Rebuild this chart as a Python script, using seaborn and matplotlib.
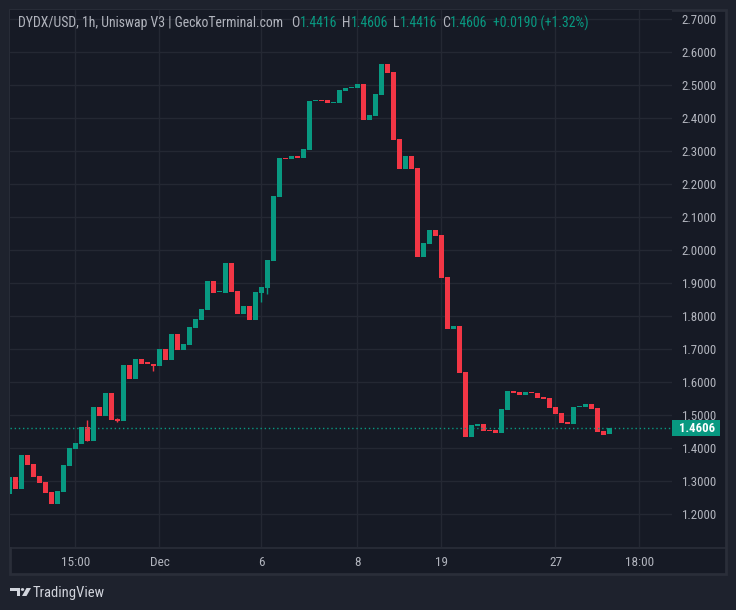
import numpy as np
import pandas as pd
import matplotlib
matplotlib.use("Agg")
import matplotlib.pyplot as plt
import seaborn as sns
from matplotlib import font_manager as fm
from matplotlib.patches import Rectangle, Polygon, Circle
from matplotlib.lines import Line2D

# ---------------- data ----------------
opens = [1.261, 1.312, 1.276, 1.379, 1.352, 1.315, 1.297, 1.267, 1.230, 1.267,
         1.345, 1.397, 1.412, 1.464, 1.421, 1.524, 1.497, 1.567, 1.488, 1.482,
         1.652, 1.609, 1.670, 1.658, 1.655, 1.649, 1.700, 1.667, 1.745, 1.697,
         1.712, 1.764, 1.788, 1.818, 1.906, 1.872, 1.870, 1.961, 1.876, 1.806,
         1.830, 1.788, 1.870, 1.885, 1.967, 2.161, 2.279, 2.276, 2.285, 2.279,
         2.303, 2.452, 2.455, 2.455, 2.446, 2.446, 2.482, 2.491, 2.491, 2.503,
         2.394, 2.406, 2.470, 2.564, 2.539, 2.336, 2.245, 2.285, 2.248, 1.979,
         2.018, 2.061, 2.045, 1.918, 1.761, 1.770, 1.630, 1.433, 1.467, 1.473,
         1.455, 1.455, 1.445, 1.515, 1.573, 1.570, 1.561, 1.570, 1.567, 1.555,
         1.552, 1.524, 1.506, 1.479, 1.473, 1.524, 1.524, 1.533, 1.521, 1.452,
         1.4416]
closes = [1.312, 1.276, 1.379, 1.348, 1.312, 1.294, 1.264, 1.230, 1.270, 1.349,
          1.400, 1.415, 1.464, 1.421, 1.524, 1.497, 1.567, 1.485, 1.482, 1.652,
          1.609, 1.670, 1.655, 1.656, 1.649, 1.700, 1.667, 1.745, 1.697, 1.715,
          1.767, 1.791, 1.821, 1.906, 1.870, 1.874, 1.961, 1.873, 1.806, 1.830,
          1.788, 1.873, 1.888, 1.970, 2.164, 2.279, 2.276, 2.285, 2.279, 2.306,
          2.452, 2.455, 2.452, 2.446, 2.449, 2.485, 2.491, 2.494, 2.503, 2.394,
          2.409, 2.473, 2.564, 2.536, 2.333, 2.245, 2.285, 2.245, 1.979, 2.021,
          2.061, 2.042, 1.915, 1.761, 1.770, 1.627, 1.433, 1.470, 1.473, 1.452,
          1.452, 1.445, 1.518, 1.573, 1.567, 1.561, 1.570, 1.567, 1.552, 1.548,
          1.521, 1.503, 1.476, 1.473, 1.524, 1.527, 1.533, 1.518, 1.448, 1.440,
          1.4606]
wick_highs = {13: 1.485, 18: 1.491}
wick_lows = {18: 1.479, 24: 1.633, 42: 1.842, 43: 1.867}

xtick_pos = [11, 25, 42, 58, 72, 91, 105]
xtick_labels = ["15:00", "Dec", "6", "8", "19", "27", "18:00"]
ytick_vals = [1.2, 1.3, 1.4, 1.5, 1.6, 1.7, 1.8, 1.9, 2.0, 2.1, 2.2, 2.3, 2.4, 2.5, 2.6, 2.7]
last_price = 1.4606

header_main = "DYDX/USD, 1h, Uniswap V3 | GeckoTerminal.com"
ohlc_letters = ["O", "H", "L", "C"]
ohlc_values = ["1.4416", "1.4606", "1.4416", "1.4606"]
change_text = "+0.0190 (+1.32%)"
brand = "TradingView"

# ---------------- style ----------------
OUTER = "#1e222d"
INNER = "#161a25"
GRID = "#242833"
BORDER = "#2a2e39"
TEXT = "#b2b5be"
GREEN = "#089981"
RED = "#f23645"

sns.set_theme(style="dark")


def pick(names):
    for n in names:
        try:
            fm.findfont(fm.FontProperties(family=n), fallback_to_default=False)
            return n
        except Exception:
            pass
    return "DejaVu Sans"


FONT = pick(["Liberation Sans Narrow", "Roboto Condensed", "Open Sans Condensed",
             "Liberation Sans", "DejaVu Sans"])
plt.rcParams["font.family"] = [FONT, "DejaVu Sans"]

W, H = 736, 610
fig = plt.figure(figsize=(W / 100, H / 100), dpi=100, facecolor=OUTER)


def fx(x):
    return x / W


def fy(y):
    return 1 - y / H


# chart frame
fig.patches.append(Rectangle((fx(9.5), fy(573.5)), (726 - 9.5) / W, (573.5 - 9.5) / H,
                             transform=fig.transFigure, facecolor=INNER,
                             edgecolor=BORDER, lw=2, zorder=-5))

ax = fig.add_axes([fx(10), fy(547), (672 - 10) / W, (547 - 10) / H])
ax.set_zorder(1)
ax.set_facecolor(INNER)
for s in ax.spines.values():
    s.set_visible(False)

# candles
df = pd.DataFrame({"open": opens, "close": closes})
df["idx"] = np.arange(len(df))
df["up"] = df["close"] >= df["open"]
df["bottom"] = df[["open", "close"]].min(axis=1)
df["height"] = (df["close"] - df["open"]).abs().clip(lower=0.0035)
df["color"] = np.where(df["up"], GREEN, RED)

for i, hv in wick_highs.items():
    ax.vlines(i, df.loc[i, "bottom"], hv, color=df.loc[i, "color"], lw=1, zorder=2)
for i, lv in wick_lows.items():
    ax.vlines(i, lv, df.loc[i, "bottom"] + df.loc[i, "height"], color=df.loc[i, "color"], lw=1, zorder=2)

ax.bar(df["idx"], df["height"], bottom=df["bottom"], width=0.84,
       color=df["color"], linewidth=0, zorder=3, antialiased=False)

ax.axhline(last_price, color=GREEN, lw=1, ls=(0, (1, 2)), zorder=4)

ax.set_xlim(0.083, 110.42)
ax.set_ylim(1.10, 2.7273)
ax.set_yticks(ytick_vals)
ax.set_yticklabels([f"{v:.4f}" for v in ytick_vals])
ax.set_xticks(xtick_pos)
ax.set_xticklabels(xtick_labels)
ax.grid(True, color=GRID, lw=1)
ax.set_axisbelow(True)
ax.yaxis.tick_right()
ax.tick_params(axis="y", length=0, pad=6.8, labelsize=9.3, labelcolor=TEXT)
ax.tick_params(axis="x", length=0, pad=6.5, labelsize=9.5, labelcolor=TEXT)

# separators
fig.lines.append(Line2D([fx(10), fx(726)], [fy(547.5), fy(547.5)], transform=fig.transFigure,
                        color=BORDER, lw=1.2, zorder=2))

# price tag
fig.patches.append(Rectangle((fx(672), fy(435.5)), 48 / W, 16 / H, transform=fig.transFigure,
                             facecolor=GREEN, edgecolor="none", zorder=5))
fig.text(fx(697.5), fy(428.3), f"{last_price:.4f}", color="white", fontsize=9.2,
         fontweight="bold", ha="center", va="center", zorder=6)

# header
fig.canvas.draw()
r = fig.canvas.get_renderer()
hy = fy(23)
t = fig.text(fx(18), hy, header_main, color=TEXT, fontsize=9.5, ha="left", va="center", zorder=6)
w = t.get_window_extent(r).width
fsz = 9.5 * 266 / w
t.set_fontsize(fsz)
letter_x = [291, 342, 393, 442]
for lx, lt, val in zip(letter_x, ohlc_letters, ohlc_values):
    tl = fig.text(fx(lx), hy, lt, color=TEXT, fontsize=fsz, ha="left", va="center", zorder=6)
    lw_ = tl.get_window_extent(r).width
    fig.text(fx(lx + lw_ + 0.5), hy, val, color=GREEN, fontsize=fsz, ha="left", va="center", zorder=6)
fig.text(fx(493), hy, change_text, color=GREEN, fontsize=fsz, ha="left", va="center", zorder=6)

# brand
fig.patches.append(Polygon([[fx(10), fy(588)], [fx(20), fy(588)], [fx(20), fy(596)],
                            [fx(17), fy(596)], [fx(17), fy(591)], [fx(10), fy(591)]],
                           closed=True, transform=fig.transFigure, facecolor="#d1d4dc",
                           edgecolor="none"))
fig.patches.append(Circle((fx(22.5), fy(589.5)), 1.7 / W, transform=fig.transFigure,
                          facecolor="#d1d4dc", edgecolor="none"))
fig.patches.append(Polygon([[fx(26.5), fy(588)], [fx(31), fy(588)], [fx(26.5), fy(596)],
                            [fx(22), fy(596)]], closed=True, transform=fig.transFigure,
                           facecolor="#d1d4dc", edgecolor="none"))
fig.text(fx(33), fy(592.5), brand, color="#d1d4dc", fontsize=10.5, ha="left", va="center")

fig.savefig("out.png", dpi=100, facecolor=OUTER)
